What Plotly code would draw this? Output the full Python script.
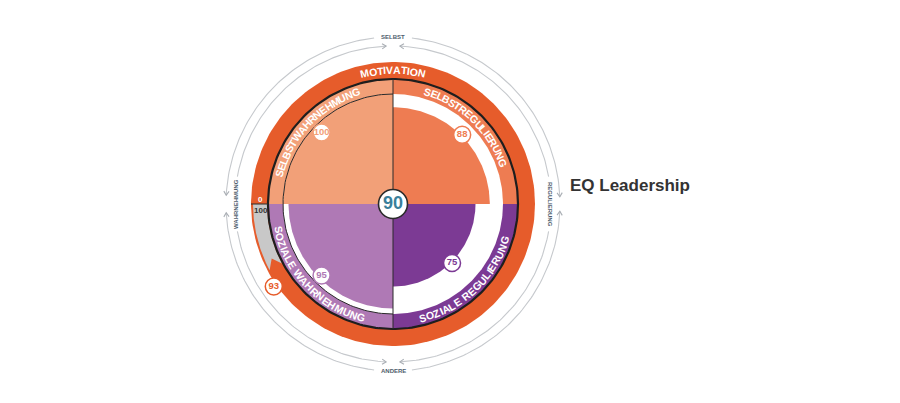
import numpy as np
import plotly.graph_objects as go

# ---------------- data ----------------
title_text = "EQ Leadership"
quadrant_labels = ["SELBSTREGULIERUNG", "SELBSTWAHRNEHMUNG", "SOZIALE WAHRNEHMUNG", "SOZIALE REGULIERUNG"]
quadrant_scores = [88, 100, 95, 75]
total_score = 90
ring_label = "MOTIVATION"
ring_score = 93
gauge_ticks = ["0", "100"]
direction_labels = ["SELBST", "WAHRNEHMUNG", "ANDERE", "REGULIERUNG"]

# ---------------- style / geometry ----------------
W, H = 900, 403
PAGE_OFF = 8            # default body margin of the html page
CX, CY = 393 - PAGE_OFF, 204 - PAGE_OFF
R_OUT, R_BLACK, R_BAND = 142, 125, 110
R_ARC_OUT, R_ARC_IN = 167, 158
ORANGE = "#E65C2B"
Q_COLORS = ["#EE7C52", "#F2A078", "#AF79B5", "#7C3A94"]
Q_START = [0, 90, 180, 270]
ARC_COL = "#C6C9CD"
LABEL_COL = "#4E5D6C"
FONT = "Liberation Sans"

CHAR_W = dict(A=.722, B=.722, C=.722, D=.722, E=.667, F=.611, G=.778, H=.722, I=.278, J=.556,
              K=.722, L=.611, M=.833, N=.722, O=.778, P=.667, Q=.778, R=.722, S=.667, T=.611,
              U=.722, V=.667, W=.944, X=.667, Y=.667, Z=.611)
CHAR_W[" "] = .278


def arc_pts(r, a0, a1, n=120):
    t = np.radians(np.linspace(a0, a1, n))
    return r * np.cos(t), r * np.sin(t)


fig = go.Figure()


def add_poly(xs, ys, color):
    fig.add_trace(go.Scatter(x=list(xs), y=list(ys), mode="lines", fill="toself",
                             fillcolor=color, line=dict(width=0, color=color),
                             hoverinfo="skip", showlegend=False))


def add_line(xs, ys, color, width):
    fig.add_trace(go.Scatter(x=list(xs), y=list(ys), mode="lines",
                             line=dict(width=width, color=color),
                             hoverinfo="skip", showlegend=False))


def wedge(r, a0, a1):
    x, y = arc_pts(r, a0, a1)
    return np.r_[0, x, 0], np.r_[0, y, 0]


# orange motivation ring (full disc underneath)
x, y = arc_pts(R_OUT, 0, 360, 240)
add_poly(x, y, ORANGE)

# quadrants: band, white gap, score wedge
for a0, col, v in zip(Q_START, Q_COLORS, quadrant_scores):
    add_poly(*wedge(R_BLACK, a0, a0 + 90), col)
    add_poly(*wedge(R_BAND, a0, a0 + 90), "white")
    add_poly(*wedge(R_BAND * v / 100, a0, a0 + 90), col)

# gray gauge for the missing part of the ring score
gap_deg = (100 - ring_score) / 100 * 360
a_end = 180 + gap_deg
xo, yo = arc_pts(R_OUT - 2, 180, a_end + 3)
xi, yi = arc_pts(R_BLACK + 1, a_end + 3, 180)
tip_r = (R_OUT - 2 + R_BLACK + 1) / 2
tx, ty = tip_r * np.cos(np.radians(a_end - 1)), tip_r * np.sin(np.radians(a_end - 1))
add_poly(np.r_[xo, tx, xi], np.r_[yo, ty, yi], "#C8C8C8")

# structural lines
x, y = arc_pts(R_BLACK, 0, 360, 240)
add_line(x, y, "#1E1E1E", 2.2)
x, y = arc_pts(R_BAND, 90, 270, 120)
add_line(x, y, "#2A2A2A", 1)
add_line([0, 0], [R_BLACK, -R_BLACK], "#2A2A2A", 1)
add_line([-R_OUT, -R_BLACK], [0, 0], "#2A2A2A", 1)

# outer direction arcs with chevrons
segs_out = [(2.5, 83.5), (96.5, 177), (183, 263.5), (276.5, 357.5)]
segs_in = [(10, 87.5), (92.5, 170), (190, 267.5), (272.5, 350)]
arrows = []  # (r, angle, direction +1 ccw / -1 cw)
for a0, a1 in segs_out:
    x, y = arc_pts(R_ARC_OUT, a0, a1, 80)
    add_line(x, y, ARC_COL, 1.1)
arrows += [(R_ARC_OUT, 177, +1), (R_ARC_OUT, 183, -1), (R_ARC_OUT, 357.5, +1), (R_ARC_OUT, 2.5, -1)]
for a0, a1 in segs_in:
    x, y = arc_pts(R_ARC_IN, a0, a1, 80)
    add_line(x, y, ARC_COL, 1.1)
arrows += [(R_ARC_IN, 87.5, +1), (R_ARC_IN, 92.5, -1), (R_ARC_IN, 267.5, +1), (R_ARC_IN, 272.5, -1)]

cx, cy = [], []
for r, a, s in arrows:
    t = np.radians(a)
    T = np.array([r * np.cos(t), r * np.sin(t)])
    d = s * np.array([-np.sin(t), np.cos(t)])
    n = np.array([np.cos(t), np.sin(t)])
    p1 = T - 4 * d + 2.6 * n
    p2 = T - 4 * d - 2.6 * n
    cx += [p1[0], T[0], p2[0], None]
    cy += [p1[1], T[1], p2[1], None]
add_line(cx, cy, "#A9AEB4", 1.1)

# badges
bx, by, bt, bcol = [], [], [], []
for a0, col, v in zip(Q_START, Q_COLORS, quadrant_scores):
    r = min(R_BAND * v / 100 + 1, R_BAND - 9)
    t = np.radians(a0 + 45)
    bx.append(r * np.cos(t)); by.append(r * np.sin(t))
    bt.append(f"<b>{v}</b>"); bcol.append(col)
t93 = np.radians(a_end + 9.5)
bx.append((R_OUT + 3) * np.cos(t93)); by.append((R_OUT + 3) * np.sin(t93))
bt.append(f"<b>{ring_score}</b>"); bcol.append(ORANGE)
fig.add_trace(go.Scatter(x=bx, y=by, mode="markers+text", text=bt,
                         textposition="middle center",
                         textfont=dict(family=FONT, size=9.5, color=bcol),
                         marker=dict(size=17, color="white", line=dict(width=1.5, color=bcol)),
                         hoverinfo="skip", showlegend=False))
fig.add_trace(go.Scatter(x=[0], y=[0], mode="markers+text", text=[f"<b>{total_score}</b>"],
                         textposition="middle center",
                         textfont=dict(family=FONT, size=18, color="#3A7F9B"),
                         marker=dict(size=29, color="white", line=dict(width=1.6, color="#2A2A2A")),
                         hoverinfo="skip", showlegend=False))

# curved texts
annotations = []


def curved_text(text, r, center, size, color, clockwise=True, spacing=1.0):
    widths = [CHAR_W.get(c, .667) * size * spacing for c in text]
    total = sum(widths)
    half = np.degrees(total / 2 / r)
    pos = 0.0
    for c, w in zip(text, widths):
        off = np.degrees((pos + w / 2) / r)
        pos += w
        if c == " ":
            continue
        if clockwise:
            a = center + half - off
            ang = 90 - a
        else:
            a = center - half + off
            ang = -a - 90
        ang = (ang + 180) % 360 - 180
        t = np.radians(a)
        annotations.append(dict(x=r * np.cos(t), y=r * np.sin(t), xref="x", yref="y",
                                text=f"<b>{c}</b>", showarrow=False, textangle=ang,
                                xanchor="center", yanchor="middle",
                                font=dict(family=FONT, size=size, color=color)))


curved_text(ring_label, (R_OUT + R_BLACK) / 2 + 0.5, 90, 10.5, "white", True)
band_r = (R_BAND + R_BLACK) / 2
curved_text(quadrant_labels[0], band_r, 46.5, 10.5, "white", True, 0.96)
curved_text(quadrant_labels[1], band_r, 136.5, 10.5, "white", True, 0.96)
curved_text(quadrant_labels[2], band_r, 223.5, 10.5, "white", False, 0.99)
curved_text(quadrant_labels[3], band_r, 313.5, 10.5, "white", False, 0.99)

# direction labels
dl_pos = [(0, R_ARC_OUT, 0), (-R_ARC_IN + 1, 0, -90), (0, -R_ARC_OUT, 0), (R_ARC_IN - 1, 0, 90)]
for lab, (x0, y0, ang) in zip(direction_labels, dl_pos):
    annotations.append(dict(x=x0, y=y0, xref="x", yref="y", text=f"<b>{lab}</b>", showarrow=False,
                            textangle=ang, xanchor="center", yanchor="middle",
                            font=dict(family=FONT, size=6, color=LABEL_COL)))

# gauge ticks
gx = -(R_OUT + R_BLACK) / 2 + 1
annotations.append(dict(x=gx, y=5, xref="x", yref="y", text=f"<b>{gauge_ticks[0]}</b>",
                        showarrow=False, font=dict(family=FONT, size=8, color="white")))
annotations.append(dict(x=gx, y=-6.5, xref="x", yref="y", text=f"<b>{gauge_ticks[1]}</b>",
                        showarrow=False, font=dict(family=FONT, size=8, color="#333333")))

# title
annotations.append(dict(x=175, y=19, xref="x", yref="y", text=f"<b>{title_text}</b>",
                        showarrow=False, xanchor="left", yanchor="middle",
                        font=dict(family=FONT, size=17, color="#333333")))

fig.update_layout(
    width=W, height=H, margin=dict(l=0, r=0, t=0, b=0),
    paper_bgcolor="white", plot_bgcolor="white", showlegend=False,
    xaxis=dict(range=[-CX, W - CX], visible=False, fixedrange=True),
    yaxis=dict(range=[-(H - CY), CY], visible=False, fixedrange=True,
               scaleanchor="x", scaleratio=1),
    annotations=annotations,
)

fig.write_html("out.html")
